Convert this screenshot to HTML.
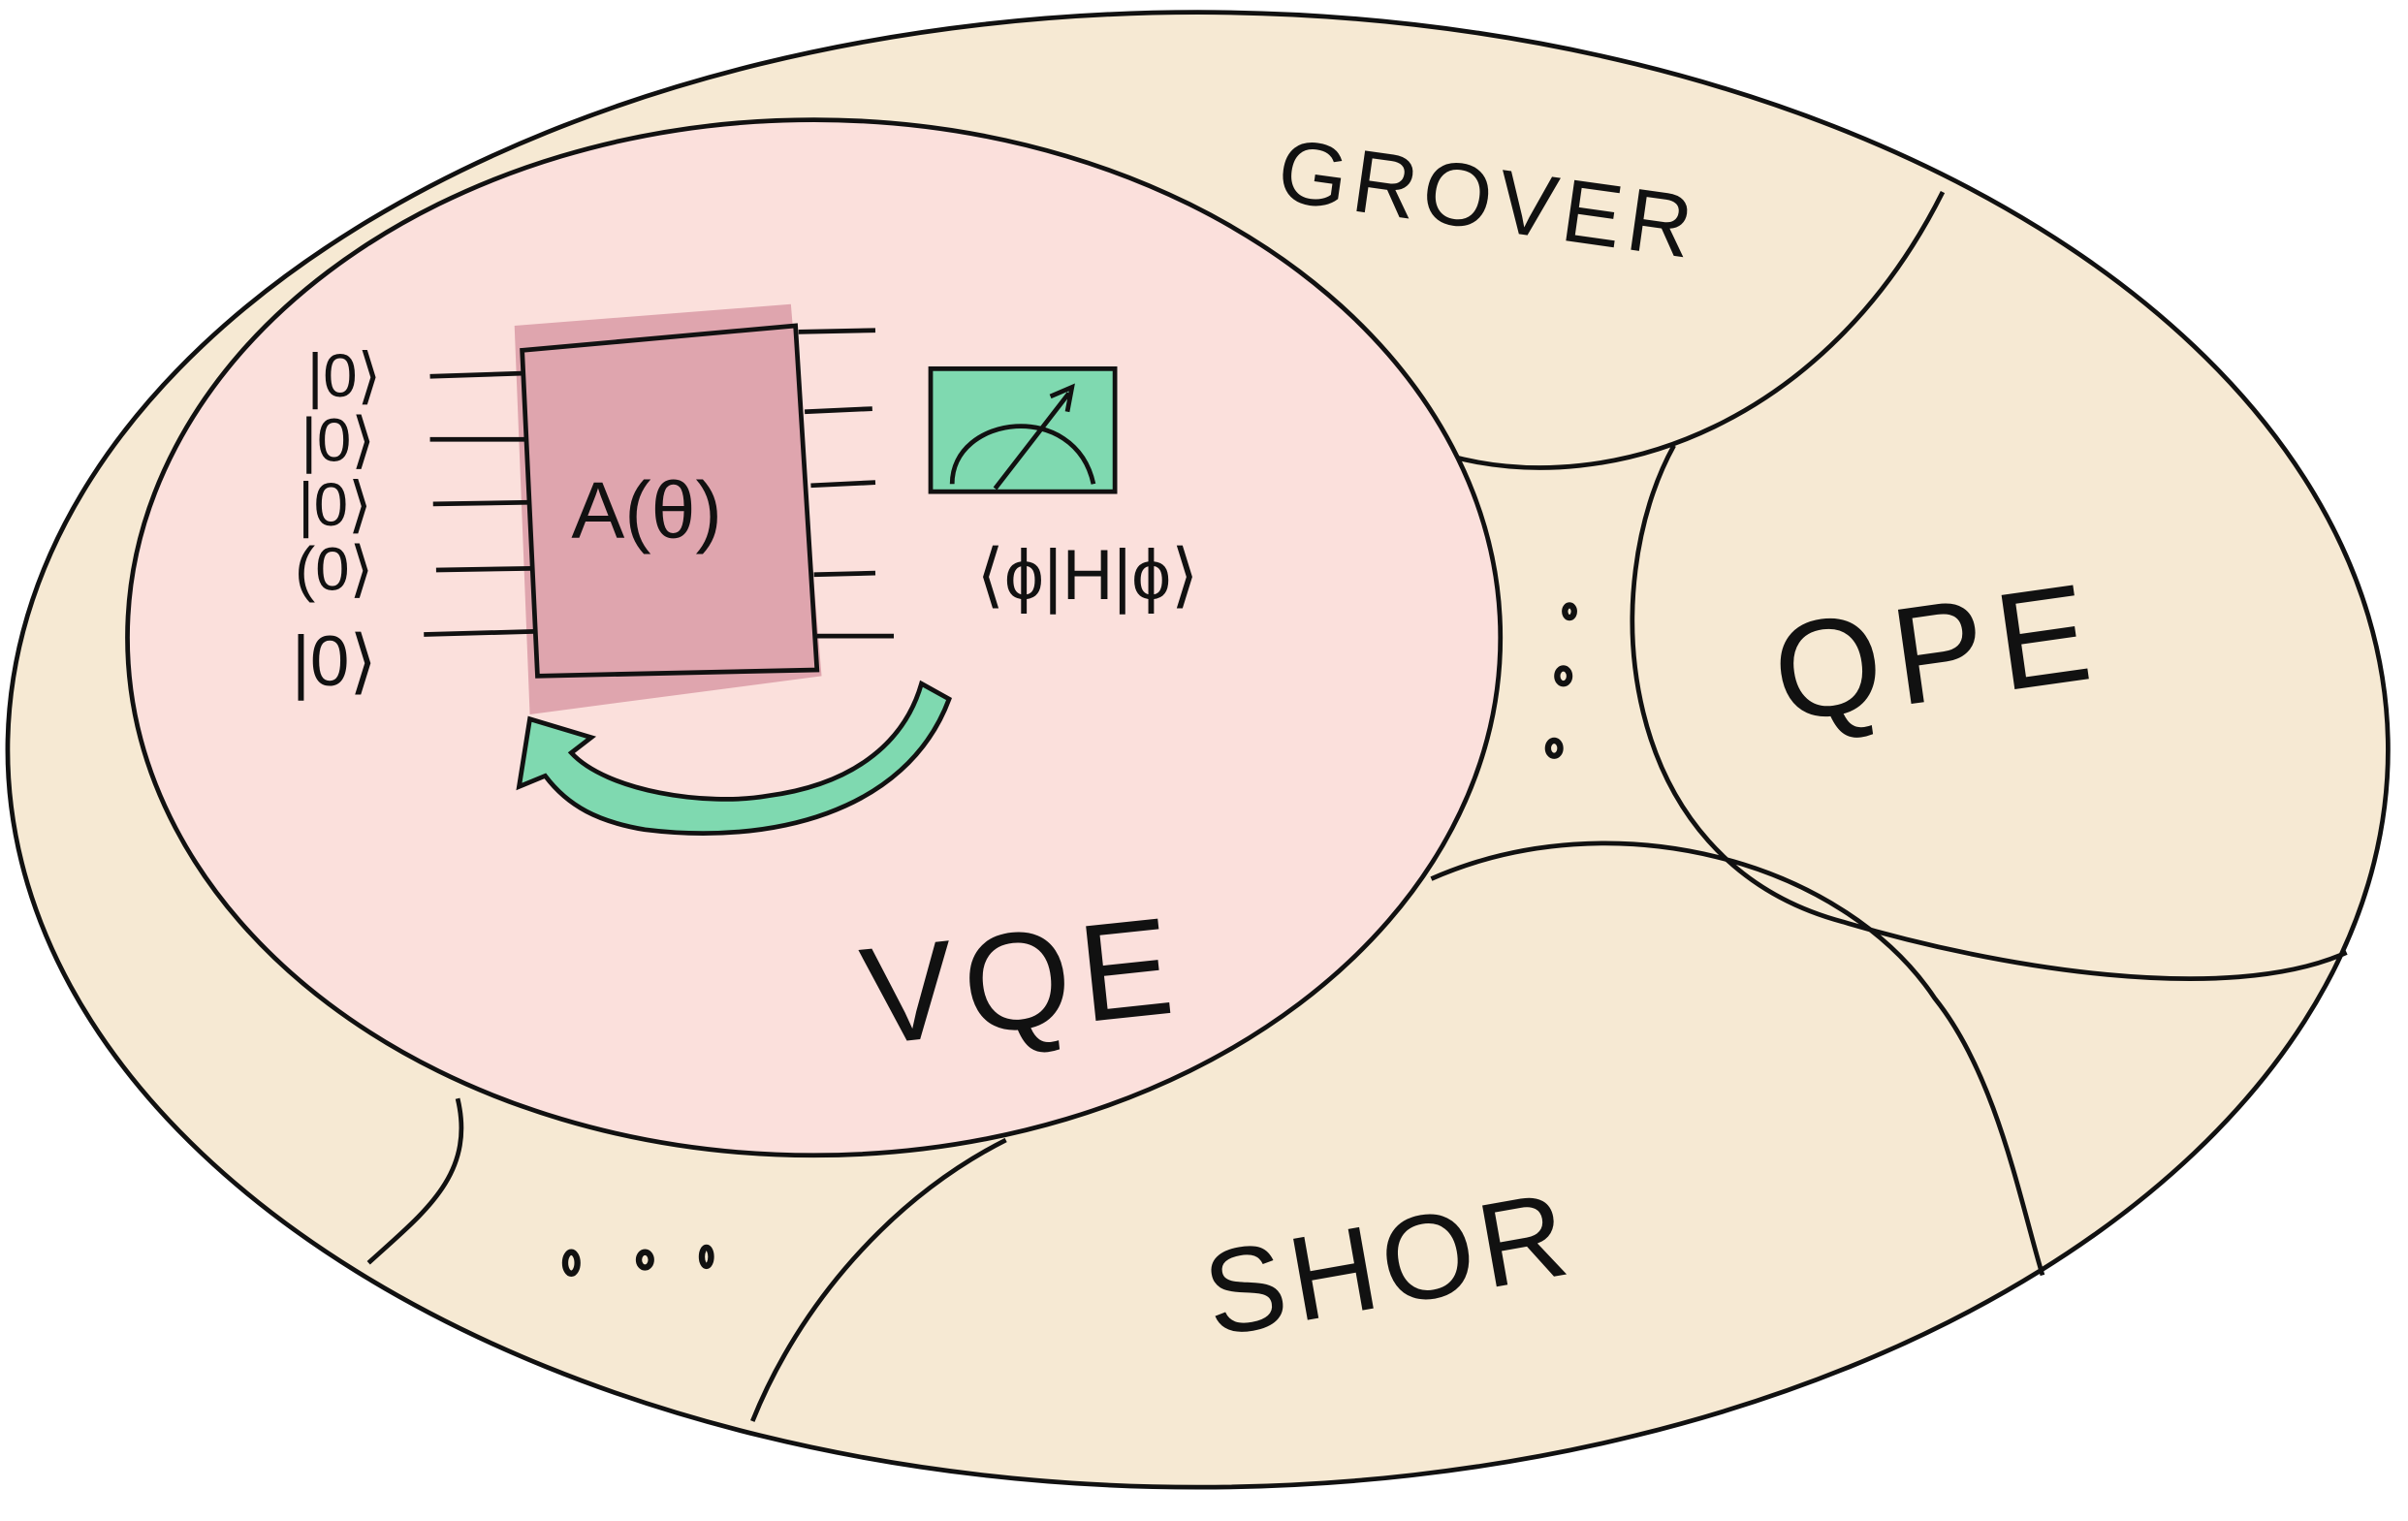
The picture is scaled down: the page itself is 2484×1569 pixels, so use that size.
<!DOCTYPE html>
<html><head><meta charset="utf-8"><style>
html,body{margin:0;padding:0;background:#fff;}
svg{display:block;}
text{font-family:"Liberation Sans","DejaVu Sans",sans-serif;fill:#111;}
</style></head><body>
<svg width="2484" height="1569" viewBox="0 0 1568 990" preserveAspectRatio="none" xmlns="http://www.w3.org/2000/svg">
<rect width="1568" height="990" fill="#fff"/>
<ellipse cx="780" cy="488" rx="775" ry="480" fill="#f6e9d3" stroke="#111" stroke-width="3"/>
<g fill="none" stroke="#111" stroke-width="3">
<path d="M945,297 C1050,325 1190,275 1265,125"/>
<path d="M1090,290 C1040,380 1050,560 1200,600 C1300,630 1450,655 1528,620"/>
<path d="M932,572 C1050,520 1200,560 1260,650 C1300,700 1315,780 1330,830"/>
<path d="M655,742 C580,780 520,850 490,925"/>
<path d="M298,715 C310,765 275,790 240,822"/>
</g>
<ellipse cx="530" cy="415" rx="447" ry="337" fill="#fbe0dc" stroke="#111" stroke-width="3"/>
<text x="830" y="130" font-size="58" transform="rotate(8 830 130)" letter-spacing="4">GROVER</text>
<text x="1160" y="470" font-size="90" transform="rotate(-8 1160 470)" letter-spacing="8">QPE</text>
<text x="565" y="680" font-size="90" transform="rotate(-6 565 680)" letter-spacing="6">VQE</text>
<text x="790" y="870" font-size="78" transform="rotate(-10 790 870)" letter-spacing="4">SHOR</text>
<g fill="none" stroke="#111" stroke-width="4">
<ellipse cx="372" cy="822" rx="4" ry="7"/><ellipse cx="420" cy="820" rx="4" ry="5"/><ellipse cx="460" cy="818" rx="3" ry="6"/>
<ellipse cx="1022" cy="398" rx="3" ry="4"/><ellipse cx="1018" cy="440" rx="4" ry="5"/><ellipse cx="1012" cy="487" rx="4" ry="5"/>
</g>
<g>
<path d="M335,212 L515,198 L535,440 L345,465 Z" fill="#dfa5ae"/>
<path d="M340,228 L518,212 L532,436 L350,440 Z" fill="#dfa5ae" stroke="#111" stroke-width="3"/>
<text x="372" y="350" font-size="52">A(θ)</text>
<g stroke="#111" stroke-width="3">
<line x1="280" y1="245" x2="340" y2="243"/><line x1="280" y1="286" x2="342" y2="286"/><line x1="282" y1="328" x2="344" y2="327"/><line x1="284" y1="371" x2="346" y2="370"/><line x1="276" y1="413" x2="348" y2="411"/>
<line x1="520" y1="216" x2="570" y2="215"/><line x1="524" y1="268" x2="568" y2="266"/><line x1="528" y1="316" x2="570" y2="314"/><line x1="530" y1="374" x2="570" y2="373"/><line x1="532" y1="414" x2="582" y2="414"/>
</g>
<g font-size="40">
<text x="200" y="258">|0⟩</text><text x="196" y="300">|0⟩</text><text x="194" y="342">|0⟩</text><text x="192" y="384">(0⟩</text><text x="190" y="446" font-size="46">|0⟩</text>
</g>
<rect x="606" y="240" width="120" height="80" fill="#7fd9b0" stroke="#111" stroke-width="3"/>
<path d="M620,315 C620,270 700,260 712,315" fill="none" stroke="#111" stroke-width="3"/>
<path d="M648,318 L696,256 M684,258 L698,252 L695,268" fill="none" stroke="#111" stroke-width="3"/>
<text x="636" y="390" font-size="46">⟨ϕ|H|ϕ⟩</text>
<path d="M600,445 L618,455 C590,530 500,550 420,540 C390,535 370,525 355,505 L338,512 L345,468 L385,480 L372,490 C395,515 460,525 500,518 C560,510 590,480 600,445 Z" fill="#7fd9b0" stroke="#111" stroke-width="3"/>
</g>
</svg>
</body></html>
